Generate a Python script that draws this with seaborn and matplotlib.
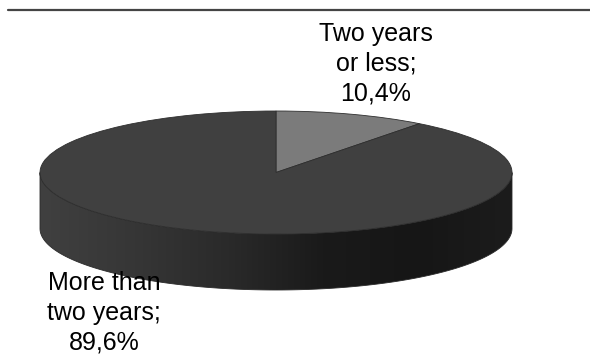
import numpy as np
import matplotlib
matplotlib.use("Agg")
import matplotlib.pyplot as plt
from matplotlib.colors import LinearSegmentedColormap
from matplotlib.patches import Polygon
import seaborn as sns

categories = ["Two years\nor less;\n10,4%", "More than\ntwo years;\n89,6%"]
shares = [10.4, 89.6]
slice_colors = ["#7b7b7b", "#404040"]
side_colors = ["#404040", "#363636", "#2a2a2a", "#1a1a1a", "#161616", "#1c1c1c"]

W, H = 590, 358
CX, CY = 276.0, 172.5   # pie centre in pixels
RX, RY = 236.0, 61.5    # pixels per unit along each axis
DEPTH = 56.0 / RY       # height of the disc wall

sns.set_theme(style="white")
plt.rcParams["font.family"] = ["Liberation Sans", "DejaVu Sans"]

fig = plt.figure(figsize=(W / 100, H / 100), dpi=100, facecolor="white")
ax = fig.add_axes([0, 0, 1, 1])

# Disc wall: a horizontal shading clipped to the lower half of the rim
t = np.linspace(np.pi, 2 * np.pi, 300)
rim = np.column_stack([np.cos(t), np.sin(t)])
wall = Polygon(
    np.vstack([rim + [0, -DEPTH], rim[::-1]]),
    closed=True, facecolor="none", edgecolor="#2a2a2a", linewidth=0.6, zorder=2,
)
ax.add_patch(wall)
shade = LinearSegmentedColormap.from_list("wall", side_colors)
im = ax.imshow(
    np.linspace(0, 1, 256)[None, :], cmap=shade, aspect="auto",
    extent=(-1, 1, -1 - DEPTH, 0), zorder=1,
)
im.set_clip_path(wall)

# Top face, clockwise from twelve o'clock
wedges, _ = ax.pie(
    shares, colors=slice_colors, startangle=90, counterclock=False,
    radius=1, center=(0, 0), frame=True,
    wedgeprops={"edgecolor": "#2e2e2e", "linewidth": 0.6, "zorder": 3},
)

ax.set_aspect("auto")
ax.set_xlim(-CX / RX, (W - CX) / RX)
ax.set_ylim(-(H - CY) / RY, CY / RY)
ax.axis("off")

# Rule above the chart
fig.add_artist(plt.Line2D([8 / W, 1], [1 - 10.3 / H] * 2, color="#444444", linewidth=1.6))

label_style = dict(ha="center", va="center", fontsize=18, color="#000000",
                   linespacing=1.29, transform=fig.transFigure, zorder=5)
fig.text(376 / W, 1 - 63.5 / H, categories[0], **label_style)
fig.text(104 / W, 1 - 313 / H, categories[1], **label_style)

fig.savefig("out.png", dpi=100, facecolor="white")
